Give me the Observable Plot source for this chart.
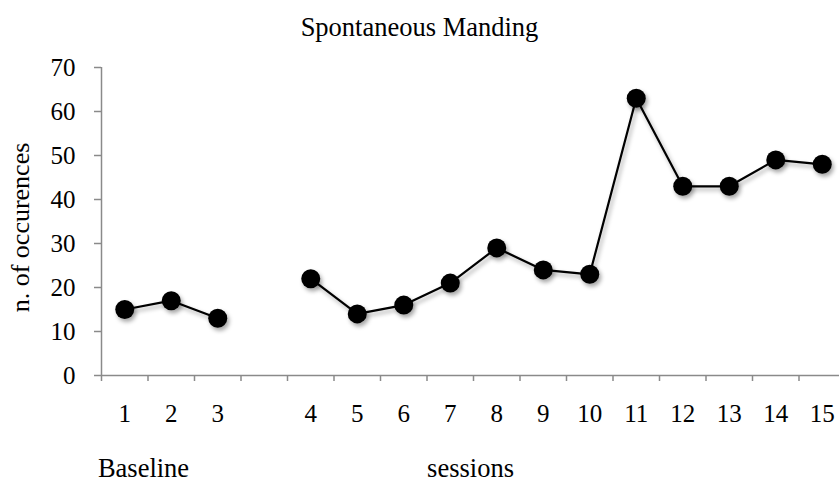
<!DOCTYPE html>
<html><head><meta charset="utf-8">
<script src="https://cdn.jsdelivr.net/npm/d3@7"></script>
<script src="https://cdn.jsdelivr.net/npm/@observablehq/plot@0.6"></script>
<style>
html,body{margin:0;padding:0;background:#fff;}
g[aria-label="dot"], g[aria-label="line"] { filter: drop-shadow(2px 3px 2px rgba(0,0,0,0.35)); }
</style></head><body><div id="chart"></div>
<script>
const slots = ["1","2","3","","4","5","6","7","8","9","10","11","12","13","14","15"];
const occurrences = [15,17,13,null,22,14,16,21,29,24,23,63,43,43,49,48];
const yTicks = [0,10,20,30,40,50,60,70];
const chartTitle = "Spontaneous Manding";
const yTitle = "n. of occurences";
const baselineLabel = "Baseline";
const xTitle = "sessions";

const data = slots.map((s, i) => ({i, s, v: occurrences[i]}));
const labeled = data.filter(d => d.s !== "");
const boundaries = d3.range(slots.length + 1).map(k => k - 0.5);
const gray = "#8a8a8a";
const serif = "'Liberation Serif', 'Times New Roman', serif";

const chart = Plot.plot({
  width: 839,
  height: 485,
  marginLeft: 101,
  marginRight: 0,
  marginTop: 67,
  marginBottom: 110,
  style: {fontFamily: serif, fontSize: "25px", color: "black", background: "white"},
  x: {type: "linear", domain: [-0.5, slots.length - 0.5], range: [101, 845]},
  y: {domain: [0, 70]},
  marks: [
    Plot.ruleY([0], {stroke: gray, strokeWidth: 1.5}),
    Plot.ruleX([-0.5], {y1: 0, y2: 70, stroke: gray, strokeWidth: 1.5}),
    Plot.axisY({ticks: yTicks, tickSize: 7, tickPadding: 19, stroke: gray, strokeWidth: 1.5, fill: "black", fontSize: 25, label: null}),
    Plot.axisX({ticks: boundaries, tickSize: 6, tickFormat: () => "", stroke: gray, strokeWidth: 1.5, label: null}),
    Plot.axisX({ticks: labeled.map(d => d.i), tickFormat: i => slots[i], tickSize: 0, tickPadding: 29, fill: "black", fontSize: 25, label: null}),
    Plot.line(data, {x: "i", y: "v", stroke: "black", strokeWidth: 2.2}),
    Plot.dot(data.filter(d => d.v != null), {x: "i", y: "v", r: 9.5, fill: "black", stroke: "none"}),
    Plot.text([chartTitle], {frameAnchor: "top-left", textAnchor: "middle", lineAnchor: "middle", dx: 318, dy: -40, fontSize: 26.5, fill: "black"}),
    Plot.text([yTitle], {frameAnchor: "left", textAnchor: "middle", lineAnchor: "middle", rotate: -90, dx: -81, dy: 6, fontSize: 26, fill: "black"}),
    Plot.text([baselineLabel], {frameAnchor: "bottom-left", textAnchor: "middle", lineAnchor: "middle", dx: 42, dy: 93, fontSize: 26.5, fill: "black"}),
    Plot.text([xTitle], {frameAnchor: "bottom-left", textAnchor: "middle", lineAnchor: "middle", dx: 369, dy: 93, fontSize: 26.5, fill: "black"})
  ]
});
document.getElementById("chart").appendChild(chart);
</script></body></html>
